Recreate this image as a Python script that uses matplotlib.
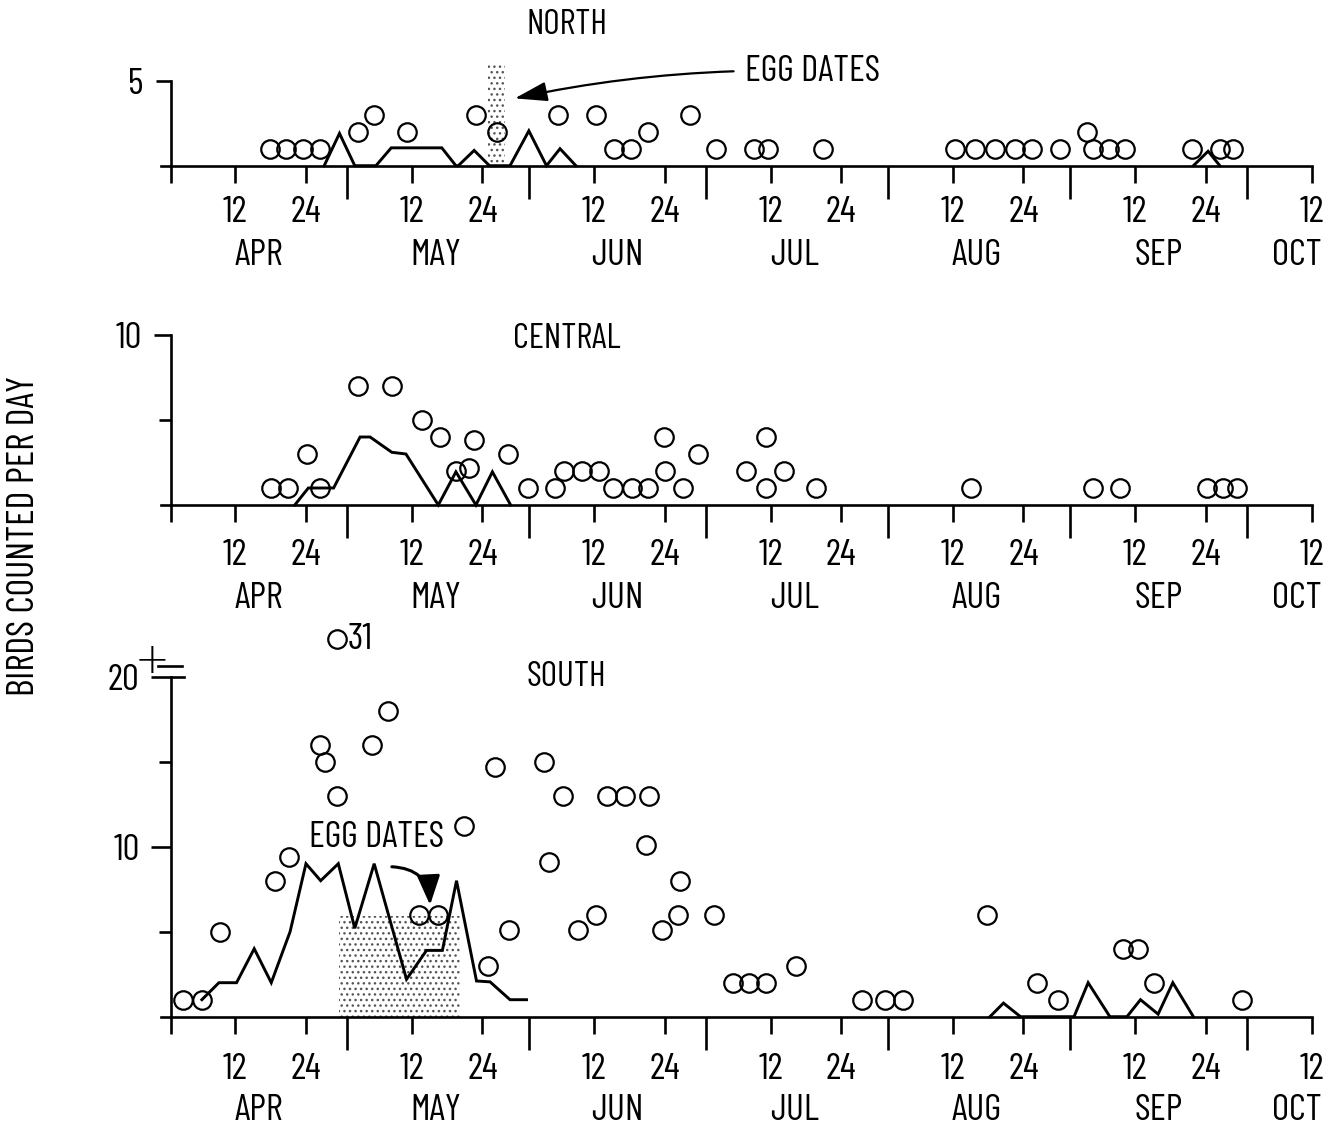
import numpy as np
import matplotlib
matplotlib.use('Agg')
import matplotlib.pyplot as plt
from matplotlib import font_manager as fm

# ---------------- data (x = days after 1 April; 1 April = 0) ----------------
months = ['APR', 'MAY', 'JUN', 'JUL', 'AUG', 'SEP', 'OCT']
month_lengths = [30, 31, 30, 31, 31, 30, 31]
tick_dom = [12, 24]

north_circle_day = [16.8, 19.6, 22.5, 25.4, 31.9, 34.5, 40.1, 51.9, 55.4, 65.9,
                    72.3, 75.3, 78.3, 81.2, 88.3, 92.7, 99.1, 101.6, 110.9,
                    133.3, 136.7, 140.1, 143.5, 146.4, 151.2, 155.8, 156.8, 159.6,
                    162.3, 173.6, 178.4, 180.7]
north_circle_count = [1, 1, 1, 1, 2, 3, 2, 3, 2, 3,
                      3, 1, 1, 2, 3, 1, 1, 1, 1,
                      1, 1, 1, 1, 1, 1, 2, 1, 1,
                      1, 1, 1, 1]
north_line_day = [26.1, 28.7, 31.3, 34.9, 37.5, 46.1, 48.5, 48.9, 51.6, 54.2,
                  57.7, 60.9, 63.9, 66.2, 68.9, np.nan, 173.9, 176.4, 178.4]
north_line_count = [0, 1.9, 0, 0, 1.05, 1.05, 0, 0, 0.9, 0,
                    0, 2.05, 0, 1.0, 0, np.nan, 0, 0.85, 0]
north_egg_dates = [54.0, 56.8]

central_circle_day = [17.0, 20.0, 23.1, 25.4, 31.9, 37.6, 42.8, 45.8, 48.5, 50.8,
                      51.5, 57.4, 60.7, 65.3, 66.9, 69.9, 72.8, 75.2, 78.4, 81.2,
                      83.9, 84.0, 87.1, 89.6, 97.9, 101.3, 101.3, 104.3, 109.7,
                      136.0, 156.9, 161.5, 176.2, 179.0, 181.3]
central_circle_count = [1, 1, 3, 1, 7, 7, 5, 4, 2, 2.2,
                        3.8, 3, 1, 1, 2, 2, 2, 1, 1, 1,
                        4, 2, 1, 3, 2, 4, 1, 2, 1,
                        1, 1, 1, 1, 1, 1]
central_line_day = [21.1, 23.4, 27.7, 32.2, 33.9, 37.6, 40.0, 45.5, 48.5, 51.9,
                    54.7, 57.8]
central_line_count = [0, 1, 1, 4, 4, 3.1, 3, 0, 1.95, 0, 1.95, 0]

south_circle_day = [2.1, 5.3, 8.4, 17.7, 20.1, 25.4, 26.2, 28.2, 28.2, 34.2, 37.0,
                    42.3, 45.5, 49.8, 54.0, 55.2, 57.6, 63.5, 64.4, 66.7, 69.3,
                    72.4, 74.2, 77.2, 80.8, 81.4, 83.5, 86.3, 86.6, 92.4, 95.6,
                    98.4, 101.2, 106.4, 117.5, 121.5, 124.5, 138.8, 147.3, 150.9,
                    162.0, 164.5, 167.2, 182.1]
south_circle_count = [1, 1, 5, 8, 9.4, 16, 15, 13, 31, 16, 18,
                      6, 6, 11.2, 3, 14.7, 5.1, 15, 9.1, 13, 5.1,
                      6, 13, 13, 10.1, 13, 5.1, 6, 8, 6, 2,
                      2, 2, 3, 1, 1, 1, 6, 2, 1,
                      4, 4, 2, 1]
south_line_day = [5.3, 8.2, 11.2, 14.2, 17.1, 20.3, 23.0, 25.5, 28.5, 31.3, 34.6,
                  40.1, 43.5, 46.2, 48.6, 52.0, 54.3, 57.7, 60.5, np.nan,
                  139.3, 141.6, 144.5, 153.6, 156.0, 159.7, 162.6, 164.9, 167.9,
                  170.4, 173.9]
south_line_count = [1, 2, 2, 4, 2, 5, 9, 8, 9, 5.2, 9,
                    2.2, 3.9, 3.9, 8, 2.1, 2.05, 1, 1, np.nan,
                    0, 0.8, 0, 0, 2, 0, 0, 1, 0.15,
                    2, 0]
south_egg_dates = [28.7, 49.2]
south_top_label = 20

# ---------------- style / layout ----------------
W, H, DPI = 1335, 1126, 100
PX0, PXD, PYU = 170.7, 5.881, 17.0      # pixel of 1 April, px per day, px per count
AX_L, AX_R = 140, 1330
EGG_H = 5.9
OVER_Y = 22.2

names = {f.name for f in fm.fontManager.ttflist}
FONT = 'DejaVu Sans'
for cand in ['Barlow Condensed', 'Fira Sans Extra Condensed', 'Archivo Narrow',
             'PT Sans Narrow', 'Liberation Sans Narrow']:
    if cand in names:
        FONT = cand
        break
plt.rcParams['font.family'] = [FONT, 'DejaVu Sans']

LW_AX = 1.9
LW_LINE = 2.1
MS = 13.3
MEW = 1.6
FS_TICK = 27
FS_MONTH = 27
FS_TITLE = 25.5
FS_EGG = 26.5
FS_YLAB = 27.5

fig = plt.figure(figsize=(W / DPI, H / DPI), dpi=DPI)
fig.patch.set_facecolor('white')

starts = np.concatenate([[0], np.cumsum(month_lengths)])
major_days = starts[1:len(months)]                    # May 1 .. Oct 1
minor_days = [0]
minor_labels = ['']
for i in range(len(months)):
    for d in tick_dom:
        day = starts[i] + d - 1
        if day <= starts[len(months) - 1] + 11:
            minor_days.append(day)
            minor_labels.append(str(d))
month_label_x = [s + 15 for s in starts[:len(months) - 1]] + [starts[len(months) - 1] + 8.5]
XEND = starts[len(months) - 1] + 11


def make_ax(y0, ylo, yhi):
    top = y0 - yhi * PYU
    bot = y0 - ylo * PYU
    ax = fig.add_axes([AX_L / W, 1 - bot / H, (AX_R - AX_L) / W, (bot - top) / H])
    ax.set_xlim((AX_L - PX0) / PXD, (AX_R - PX0) / PXD)
    ax.set_ylim(ylo, yhi)
    ax.patch.set_visible(False)
    return ax


def setup(ax, ytop, ymaj, ymaj_lab, ymin, ymaj_len, ylab_pad, xlab_pad, month_off):
    for s in ['top', 'right']:
        ax.spines[s].set_visible(False)
    ax.spines['bottom'].set_position(('data', 0))
    ax.spines['left'].set_position(('data', 0))
    ax.spines['bottom'].set_bounds(-1.6, XEND)
    ax.spines['left'].set_bounds(0, ytop)
    for s in ['bottom', 'left']:
        ax.spines[s].set_linewidth(LW_AX)
        ax.spines[s].set_capstyle('projecting')
    ax.set_xticks(major_days, labels=[''] * len(major_days))
    ax.set_xticks(minor_days, labels=minor_labels, minor=True)
    ax.tick_params(axis='x', which='major', direction='out', length=24, width=LW_AX)
    ax.tick_params(axis='x', which='minor', direction='out', length=12.2, width=LW_AX,
                   pad=xlab_pad, labelsize=FS_TICK)
    ax.set_yticks(ymaj, labels=ymaj_lab)
    ax.set_yticks(ymin, minor=True)
    ax.tick_params(axis='y', which='major', direction='out', length=ymaj_len, width=LW_AX,
                   pad=ylab_pad, labelsize=FS_TICK)
    ax.tick_params(axis='y', which='minor', direction='out', length=8.6, width=LW_AX)
    for m, xm in zip(months, month_label_x):
        ax.annotate(m, xy=(xm, 0), xytext=(0, -month_off), textcoords='offset points',
                    ha='center', va='top', fontsize=FS_MONTH, annotation_clip=False)


def draw(ax, cday, ccount, lday, lcount):
    ax.plot(lday, lcount, color='black', lw=LW_LINE, solid_joinstyle='miter', clip_on=False,
            zorder=3)
    ax.plot(cday, ccount, linestyle='none', marker='o', ms=MS, mew=MEW, mfc='none',
            mec='black', clip_on=False, zorder=4)


# ---- NORTH ----
axN = make_ax(165.7, -1, 9.5)
setup(axN, 5, [5], ['5'], [], 10.8, 9, 9.5, 53.0)
axN.fill_between(north_egg_dates, 0, EGG_H, facecolor='none', edgecolor='#555555',
                 hatch='...', linewidth=0, zorder=2)
draw(axN, north_circle_day, north_circle_count, north_line_day, north_line_count)
axN.text(67.4, 8.28, 'NORTH', ha='center', va='center', fontsize=FS_TITLE)
axN.annotate('EGG DATES', xy=(58.5, 3.96), xytext=(97.6, 5.57), ha='left', va='center',
             fontsize=FS_EGG,
             arrowprops=dict(arrowstyle='-|>,head_length=1.0,head_width=0.3',
                             mutation_scale=20, connectionstyle='arc3,rad=0.06',
                             lw=1.6, color='black', shrinkA=6, shrinkB=0))

# ---- CENTRAL ----
axC = make_ax(505, -1, 11)
setup(axC, 10, [10], ['10'], [5], 12.2, 8.4, 12, 55.5)
draw(axC, central_circle_day, central_circle_count, central_line_day, central_line_count)
axC.text(67.4, 9.79, 'CENTRAL', ha='center', va='center', fontsize=FS_TITLE)

# ---- SOUTH ----
axS = make_ax(1016.7, -1, 23.5)
setup(axS, south_top_label, [10, south_top_label], ['10', str(south_top_label)], [5, 15],
      14.4, 8, 14, 55.5)
axS.fill_between(south_egg_dates, 0, EGG_H, facecolor='none', edgecolor='#555555',
                 hatch='...', linewidth=0, zorder=2)
s_cnt = np.array(south_circle_count, dtype=float)
s_plot = np.where(s_cnt > south_top_label, OVER_Y, s_cnt)
draw(axS, south_circle_day, s_plot, south_line_day, south_line_count)
for d, c in zip(south_circle_day, s_cnt):
    if c > south_top_label:
        axS.annotate(f'{c:g}', xy=(d, OVER_Y), xytext=(8, 0), textcoords='offset points',
                     ha='left', va='center', fontsize=FS_TICK)
# break marks "=" at the top of the south axis
axS.plot([0, 13.7 / PXD], [south_top_label, south_top_label], color='black', lw=LW_AX,
         clip_on=False, solid_capstyle='projecting')
axS.plot([-12.7 / PXD, 11 / PXD], [south_top_label + 11 / PYU] * 2, color='black',
         lw=LW_AX, clip_on=False)
axS.annotate('+', xy=(0, south_top_label), xytext=(-13.5, 11.5), textcoords='offset points',
             ha='center', va='center', fontsize=30, family='DejaVu Sans',
             fontweight='light')
axS.text(67.3, 20.0, 'SOUTH', ha='center', va='center', fontsize=FS_TITLE)
axS.text(35.0, 10.55, 'EGG DATES', ha='center', va='center', fontsize=FS_EGG)
axS.annotate('', xy=(44.1, 6.57), xytext=(37.6, 8.82),
             arrowprops=dict(arrowstyle='-|>,head_length=0.9,head_width=0.35',
                             mutation_scale=20, connectionstyle='arc3,rad=-0.45',
                             lw=2.2, color='black', shrinkA=0, shrinkB=0))

fig.text(25 / W, 1 - 536 / H, 'BIRDS COUNTED PER DAY', rotation=90, ha='center',
         va='center', fontsize=FS_YLAB)

fig.savefig('out.png', dpi=DPI, facecolor='white')
